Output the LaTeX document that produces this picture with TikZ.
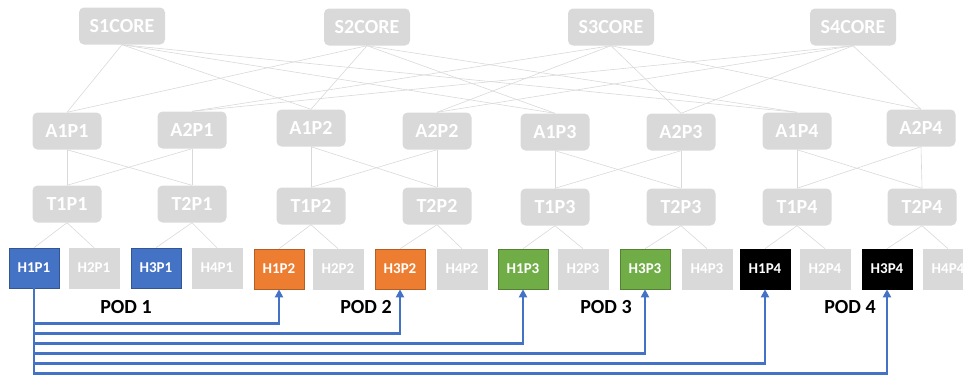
\documentclass[tikz,border=0pt]{standalone}
\usepackage{fontspec}
\setmainfont{Carlito}
\usetikzlibrary{arrows.meta}
\definecolor{idle}{HTML}{D9D9D9}
\definecolor{podblue}{HTML}{4472C4}
\definecolor{podorange}{HTML}{ED7D31}
\definecolor{podgreen}{HTML}{70AD47}
\tikzset{
x=1pt, y=-1pt, % one unit per pixel, y grows downwards
>={Triangle[length=8pt,width=8pt]}, % filled heads on the flows
switch/.style={fill=idle, rounded corners=5pt, text=white, inner sep=0pt, minimum height=37pt, font=\bfseries\fontsize{20}{24}\selectfont}, % grey switch box
core/.style={switch, minimum width=86pt},
agg/.style={switch, minimum width=69pt},
tor/.style={agg},
host/.style={fill=#1, draw=#1!75!black, line width=0.6pt, text=white, inner sep=0pt, minimum width=50pt, minimum height=40pt, font=\bfseries\fontsize{15}{17}\selectfont},
spare/.style={host=idle, draw=idle}, % hosts not in use
podlabel/.style={font=\bfseries\fontsize{20}{24}\selectfont},
wire/.style={draw=idle, line width=0.6pt}, % switch links
flow/.style={->, draw=podblue, line width=2.8pt},
}
\begin{document}
\begin{tikzpicture}
\useasboundingbox (0,0) rectangle (963,376);
% switches
\foreach \l/\x/\y in {S1CORE/122/26, S2CORE/367/27, S3CORE/611/27, S4CORE/853/27}
  \node[core] (\l) at (\x,\y) {\l};
\foreach \l/\x/\y in {A1P1/67/131, A2P1/192/130, A1P2/311/128, A2P2/437/131, A1P3/555/132, A2P3/681/132, A1P4/797/131, A2P4/921/128}
  \node[agg] (\l) at (\x,\y) {\l};
\foreach \l/\x/\y in {T1P1/67/204, T2P1/192/204, T1P2/311/206, T2P2/437/206, T1P3/555/207, T2P3/681/207, T1P4/797/207, T2P4/922/207}
  \node[tor] (\l) at (\x,\y) {\l};
% hosts
\foreach \l/\x/\y in {H2P1/94/268, H4P1/217/268, H2P2/338/269, H4P2/462/269, H2P3/583/269, H4P3/707/269, H2P4/825/269, H4P4/948/269}
  \node[spare] (\l) at (\x,\y) {\l};
\foreach \l/\x/\y/\c in {H1P1/34/268/podblue, H3P1/156/268/podblue, H1P2/279/269/podorange, H3P2/400/269/podorange, H1P3/523/269/podgreen, H3P3/645/269/podgreen, H1P4/765/269/black, H3P4/887/269/black}
  \node[host=\c] (\l) at (\x,\y) {\l};
\foreach \n/\x in {1/126, 2/366, 3/606, 4/850}
  \node[podlabel] (pod\n) at (\x,307) {POD \n};
% links
\foreach \p in {1,...,4} {
  \foreach \s in {S1CORE,S2CORE} \draw[wire] (\s.south) -- (A1P\p.north);
  \foreach \s in {S3CORE,S4CORE} \draw[wire] (\s.south) -- (A2P\p.north);
  \foreach \a in {1,2} \foreach \t in {1,2} \draw[wire] (A\a P\p.south) -- (T\t P\p.north);
  \draw[wire] (T1P\p.south) -- (H1P\p.north);
  \draw[wire] (T1P\p.south) -- (H2P\p.north);
  \draw[wire] (T2P\p.south) -- (H3P\p.north);
  \draw[wire] (T2P\p.south) -- (H4P\p.north);
}
% flows out of H1P1
\foreach \h/\d in {H1P2/35, H3P2/45, H1P3/55, H3P3/65, H1P4/75, H3P4/85}
  \draw[flow] (H1P1.south) -- ++(0,\d) -| (\h.south);
\end{tikzpicture}
\end{document}
